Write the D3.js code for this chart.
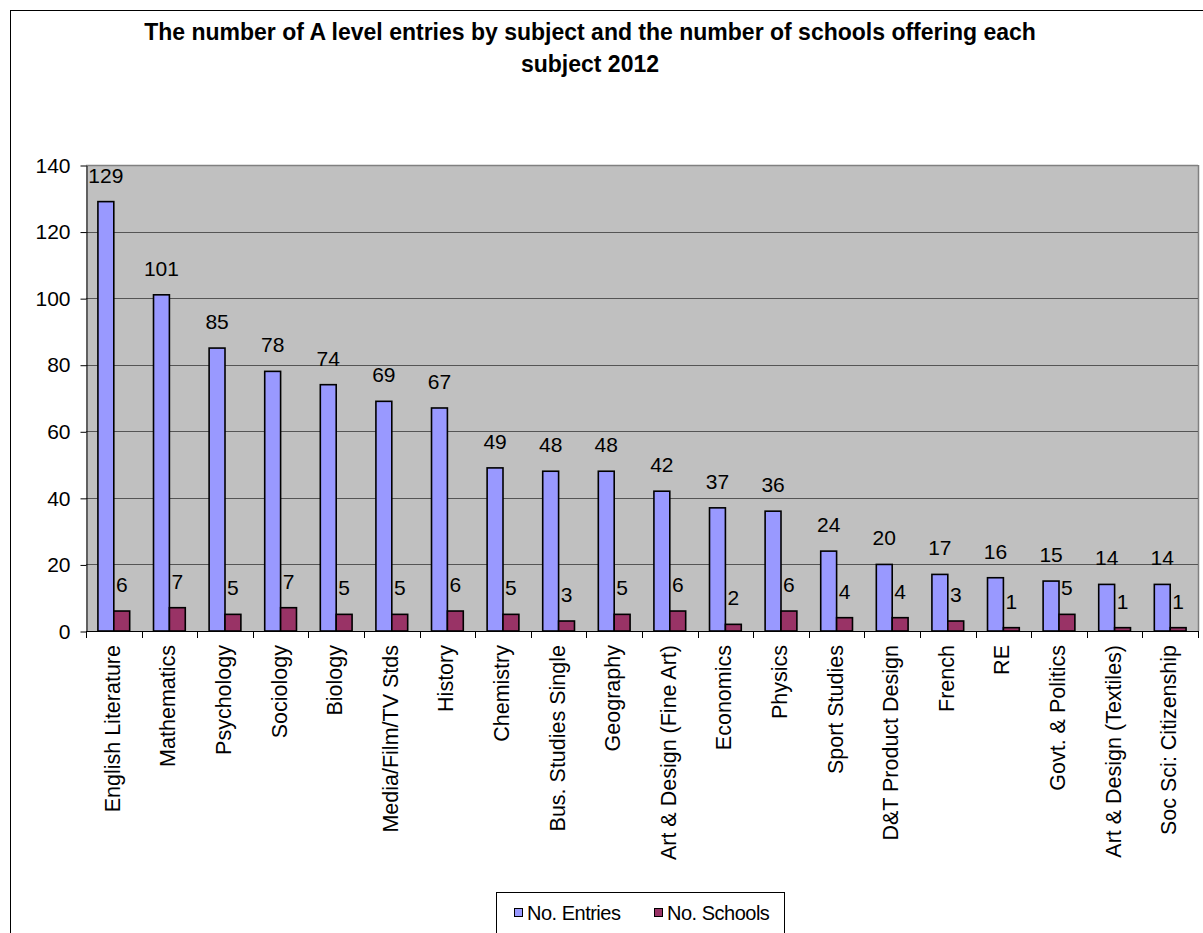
<!DOCTYPE html>
<html><head><meta charset="utf-8">
<script src="https://cdn.jsdelivr.net/npm/d3@7"></script>
<style>body{margin:0;background:#fff;}svg{display:block;}</style>
</head><body>
<svg id="c" width="1203" height="933"></svg>
<script>
const categories = ["English Literature","Mathematics","Psychology","Sociology","Biology","Media/Film/TV Stds","History","Chemistry","Bus. Studies Single","Geography","Art & Design (Fine Art)","Economics","Physics","Sport Studies","D&T Product Design","French","RE","Govt. & Politics","Art & Design (Textiles)","Soc Sci: Citizenship"];
const entries = [129,101,85,78,74,69,67,49,48,48,42,37,36,24,20,17,16,15,14,14];
const schools = [6,7,5,7,5,5,6,5,3,5,6,2,6,4,4,3,1,5,1,1];
const yTicks = [0,20,40,60,80,100,120,140];
const seriesNames = ["No. Entries","No. Schools"];
const colors = ["#9999FF","#993366"];

const svg = d3.select("#c");
const font = "'Liberation Sans', Arial, sans-serif";
const L = 86, R = 1198, T = 165, B = 631;

// outer border
svg.append("rect").attr("x",10.5).attr("y",10.5).attr("width",1250).attr("height",1000)
  .attr("fill","#fff").attr("stroke","#000").attr("stroke-width",1);

// title
const title = svg.append("text").attr("x",590).attr("y",40).attr("text-anchor","middle")
  .attr("font-family",font).attr("font-weight","bold").attr("font-size",23);
title.append("tspan").attr("x",590).attr("dy",0).text("The number of A level entries by subject and the number of schools offering each");
title.append("tspan").attr("x",590).attr("dy",32).text("subject 2012");

const x = d3.scaleBand().domain(categories).range([L,R]);
const y = d3.scaleLinear().domain([0,140]).range([B,T]);

// plot area
svg.append("rect").attr("x",L).attr("y",T).attr("width",R-L).attr("height",B-T)
  .attr("fill","#C0C0C0");
svg.append("line").attr("x1",L).attr("x2",R).attr("y1",T+0.5).attr("y2",T+0.5).attr("stroke","#808080").attr("stroke-width",1.5);
svg.append("line").attr("x1",R+0.5).attr("x2",R+0.5).attr("y1",T).attr("y2",B).attr("stroke","#808080").attr("stroke-width",1.5);

// gridlines
svg.append("g").selectAll("line").data(yTicks.filter(d=>d>0 && d<140)).join("line")
  .attr("x1",L).attr("x2",R).attr("y1",d=>Math.round(y(d))+0.5).attr("y2",d=>Math.round(y(d))+0.5)
  .attr("stroke","#555").attr("stroke-width",1);

// y axis
const yAxis = d3.axisLeft(y).tickValues(yTicks).tickSize(6).tickPadding(10).tickSizeOuter(0);
const gy = svg.append("g").attr("transform",`translate(${L+0.5},0.5)`).call(yAxis);
gy.selectAll("text").attr("font-family",font).attr("font-size",21).attr("fill","#000");
gy.select(".domain").attr("stroke","#000");
gy.selectAll(".tick line").attr("stroke","#000");

// x axis line and ticks at boundaries
svg.append("line").attr("x1",L).attr("x2",R).attr("y1",B+0.5).attr("y2",B+0.5).attr("stroke","#000");
const bounds = categories.map(c=>x(c)).concat([R]);
svg.append("g").selectAll("line").data(bounds).join("line")
  .attr("x1",d=>Math.round(d)+0.5).attr("x2",d=>Math.round(d)+0.5).attr("y1",B).attr("y2",B+7).attr("stroke","#000");

// bars
const bw = x.bandwidth()/3.5;
const off = bw*0.75;
const series = [entries, schools];
series.forEach((vals,si)=>{
  const g = svg.append("g");
  g.selectAll("rect").data(vals).join("rect")
    .attr("x",(d,i)=>x(categories[i])+off+si*bw)
    .attr("y",d=>y(d))
    .attr("width",bw)
    .attr("height",d=>B-y(d))
    .attr("fill",colors[si]).attr("stroke","#000").attr("stroke-width",1.6);
  g.selectAll("text").data(vals).join("text")
    .attr("x",(d,i)=>x(categories[i])+off+si*bw+bw/2)
    .attr("y",d=>y(d)-19)
    .attr("text-anchor","middle").attr("font-family",font).attr("font-size",21)
    .text(d=>d);
});

// x labels
svg.append("g").selectAll("text").data(categories).join("text")
  .attr("transform",d=>`translate(${x(d)+x.bandwidth()/2+6},645) rotate(-90)`)
  .attr("text-anchor","end").attr("font-family",font).attr("font-size",21.5)
  .text(d=>d);

// legend
const lg = svg.append("g");
lg.append("rect").attr("x",496.5).attr("y",892.5).attr("width",288).attr("height",60)
  .attr("fill","#fff").attr("stroke","#000");
const lx = [514,654];
seriesNames.forEach((n,i)=>{
  lg.append("rect").attr("x",lx[i]+0.5).attr("y",908.5).attr("width",8).attr("height",8)
    .attr("fill",colors[i]).attr("stroke","#000");
  lg.append("text").attr("x",lx[i]+13).attr("y",920).attr("font-family",font).attr("font-size",20)
    .attr("letter-spacing","-0.5").text(n);
});
</script>
</body></html>
